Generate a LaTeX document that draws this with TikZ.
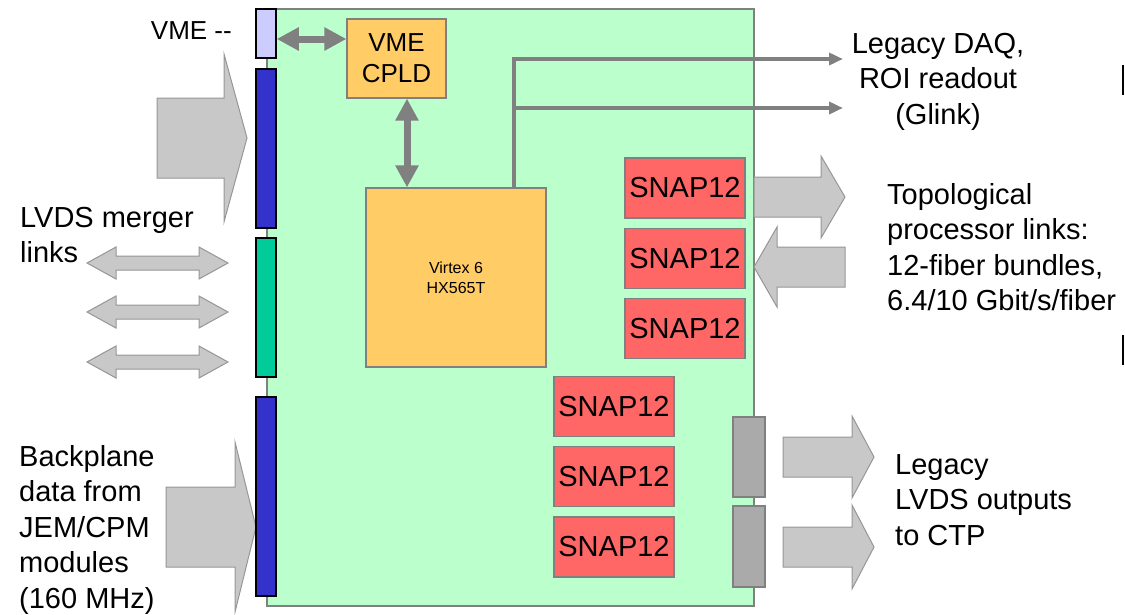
\documentclass[tikz,border=0pt]{standalone}
\usepackage{fontspec}
\setmainfont{Liberation Sans}
\usetikzlibrary{arrows.meta, positioning}
\definecolor{boardgreen}{RGB}{187,255,204}
\definecolor{fpgaorange}{RGB}{255,204,102}
\definecolor{snapred}{RGB}{255,102,102}
\definecolor{bpblue}{RGB}{51,51,204}
\definecolor{mergegreen}{RGB}{0,204,153}
\definecolor{vmelilac}{RGB}{204,204,255}
\definecolor{wiregray}{RGB}{128,128,128}
\definecolor{fatgray}{RGB}{200,200,200}
\definecolor{fatedge}{RGB}{150,150,150}
\definecolor{plugray}{RGB}{170,170,170}
\tikzstyle{board} = [rectangle, draw=wiregray, line width=1.5pt, fill=boardgreen, inner sep=0pt]
\tikzstyle{chip} = [rectangle, draw=wiregray, line width=1.2pt, fill=fpgaorange, align=center, inner sep=0pt]
\tikzstyle{snap} = [rectangle, draw=wiregray, line width=1.2pt, fill=snapred, minimum width=120pt, minimum height=60pt, inner sep=0pt, font=\fontsize{29}{35}\selectfont]
\tikzstyle{conn} = [rectangle, draw=black, line width=1.5pt, minimum width=20pt, inner sep=0pt]
\tikzstyle{lvdsout} = [rectangle, draw=wiregray, line width=1.2pt, fill=plugray, minimum width=32pt, inner sep=0pt]
\tikzstyle{txt} = [inner sep=0pt, align=left, font=\fontsize{29}{35.5}\selectfont]
\tikzstyle{fat} = [draw=fatedge, line width=1pt, fill=fatgray]
\tikzstyle{bus} = [line width=7pt, draw=wiregray, {Triangle[length=22pt,width=22pt]}-{Triangle[length=22pt,width=22pt]}]
\tikzstyle{glink} = [line width=4pt, draw=wiregray, -{Triangle[length=14pt,width=12pt]}]
\newcommand{\fatarrow}[6]{%
  \draw[fat] (#1,{#4-#5}) -- (#2,{#4-#5}) -- (#2,{#4-#6}) -- (#3,#4) -- (#2,{#4+#6}) -- (#2,{#4+#5}) -- (#1,{#4+#5}) -- cycle;}
\newcommand{\fatbiarrow}[5]{%
  \draw[fat] (#2,#1) -- (#3,{#1-16}) -- (#3,{#1-7}) -- (#4,{#1-7}) -- (#4,{#1-16}) -- (#5,#1) -- (#4,{#1+16}) -- (#4,{#1+7}) -- (#3,{#1+7}) -- (#3,{#1+16}) -- cycle;}
\begin{document}
\begin{tikzpicture}[x=1pt, y=-1pt]
\useasboundingbox (0,0) rectangle (1125,614);

\node (board) [board, minimum width=487pt, minimum height=597pt] at (510.5,307.5) {};

\fatarrow{157}{224}{247}{138}{40}{84}
\fatarrow{166}{235}{256}{527}{40}{85}
\fatarrow{754}{821}{845}{197}{20}{41}
\fatarrow{845}{777}{754}{267}{20}{40}
\fatarrow{783}{852}{874}{457}{20}{41}
\fatarrow{783}{852}{874}{547}{20}{42}
\fatbiarrow{263}{87}{116}{199}{228}
\fatbiarrow{312}{87}{116}{199}{228}
\fatbiarrow{362}{87}{116}{199}{228}

\node (vme) [conn, fill=vmelilac, minimum height=49pt] at (266,33.5) {};
\node (bpA) [conn, fill=bpblue, minimum height=159pt] at (266,148.5) {};
\node (merge) [conn, fill=mergegreen, minimum height=139pt] at (266,307.5) {};
\node (bpB) [conn, fill=bpblue, minimum height=199pt] at (266,496.5) {};

\node (cpld) [chip, minimum width=99pt, minimum height=79pt, font=\fontsize{26}{31}\selectfont] at (396.5,58.5) {VME\\CPLD};
\node (virtex) [chip, minimum width=180pt, minimum height=179pt, font=\fontsize{16}{20}\selectfont] at (456,277.5) {Virtex 6\\HX565T};

\node (snapA) [snap] at (685,188) {SNAP12};
\node (snapB) [snap, below=9pt of snapA] {SNAP12};
\node (snapC) [snap, below=9pt of snapB] {SNAP12};
\node (snapD) [snap] at (614,406.5) {SNAP12};
\node (snapE) [snap, below=9pt of snapD] {SNAP12};
\node (snapF) [snap, below=9pt of snapE] {SNAP12};

\node (ctpA) [lvdsout, minimum height=80pt] at (749,457) {};
\node (ctpB) [lvdsout, minimum height=81pt] at (749,546.5) {};

\coordinate (daqA) at (843,59);
\coordinate (daqB) at (843,108);
\draw[bus] ([yshift=-5.5pt]vme.east) -- ([yshift=-5.5pt]vme.east -| cpld.west);
\draw[bus] ([xshift=10.5pt]cpld.south) -- ([xshift=10.5pt]cpld.south |- virtex.north);
\draw[glink] ([xshift=58pt]virtex.north) |- (daqA);
\draw[glink] ([xshift=58pt]virtex.north |- daqB) -- (daqB);

\node (vmetxt) [txt, anchor=east, font=\fontsize{26}{31}\selectfont] at (232,31) {VME -{}-};
\node (mergetxt) [txt, anchor=north west] at (20,207) {LVDS merger\\links};
\node (bptxt) [txt, anchor=north west] at (19,445) {Backplane\\data from\\JEM/CPM\\modules\\(160 MHz)};
\node (daqtxt) [txt, align=center, anchor=north] at (938,33) {Legacy DAQ,\\ROI readout\\(Glink)};
\node (topotxt) [txt, anchor=north west] at (887,183) {Topological\\processor links:\\12-fiber bundles,\\6.4/10 Gbit/s/fiber};
\node (ctptxt) [txt, anchor=north west] at (895,454) {Legacy\\LVDS outputs\\to CTP};

\draw[line width=1.5pt] (1123,65) -- (1123,95);
\draw[line width=1.5pt] (1123,335) -- (1123,365);

\end{tikzpicture}
\end{document}
